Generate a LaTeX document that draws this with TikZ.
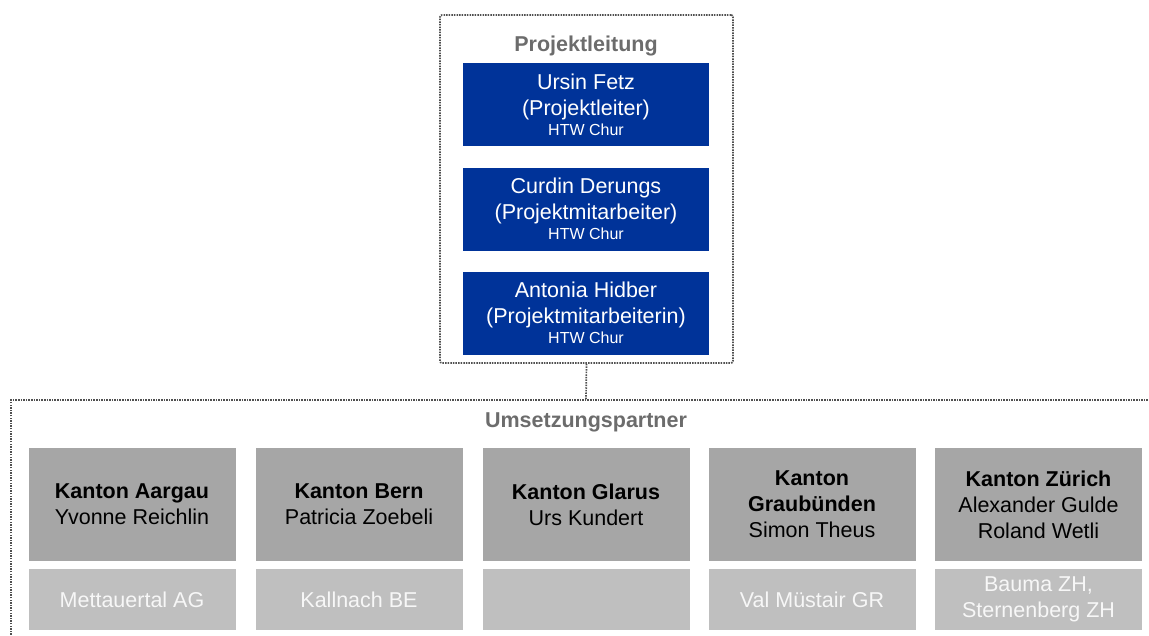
\documentclass[tikz,border=0pt]{standalone}
\usepackage{fontspec}
\setmainfont{Liberation Sans}
\definecolor{htwblau}{RGB}{0,51,153}
\definecolor{kantongrau}{RGB}{166,166,166}
\definecolor{ortgrau}{RGB}{191,191,191}
\definecolor{titelgrau}{RGB}{108,108,108}
\definecolor{punktgrau}{RGB}{80,80,80}
\newcommand{\klein}[1]{{\fontsize{16}{19}\selectfont #1}}

\tikzset{
	grundtext/.style={font=\fontsize{21.5}{26}\selectfont, align=center, inner sep=0pt},
	leitbox/.style={grundtext, fill=htwblau, text=white, minimum width=246pt, minimum height=83pt},
	kantonbox/.style={grundtext, fill=kantongrau, text=black, minimum width=207pt, minimum height=113pt},
	ortbox/.style={grundtext, fill=ortgrau, text=white!94!gray, minimum width=207pt, minimum height=61pt},
	punktlinie/.style={draw=punktgrau, line width=1.7pt, dash pattern=on 1.5pt off 1.1pt},
	titel/.style={text=titelgrau, font=\bfseries\fontsize{21.5}{26}\selectfont, anchor=base},
}

\begin{document}
\begin{tikzpicture}[x=1pt, y=-1pt]
			%%%%% START %%%%%
			\useasboundingbox (0, 0) rectangle (1149, 635);
			
			% Projektleitung
			\node[punktlinie, rounded corners=2pt, minimum width=293pt, minimum height=348pt, inner sep=0pt] (leitung) at (586.5, 189) {};
			\node[titel] (leitungtitel) at (586, 51) {Projektleitung};
			
			\node[leitbox] (fetz) at (586, 104.5) {Ursin Fetz\\(Projektleiter)\\[-6pt]\klein{HTW Chur}};
			\node[leitbox] (derungs) at (586, 209) {Curdin Derungs\\(Projektmitarbeiter)\\[-6pt]\klein{HTW Chur}};
			\node[leitbox] (hidber) at (586, 313) {Antonia Hidber\\(Projektmitarbeiterin)\\[-6pt]\klein{HTW Chur}};
			
			% Umsetzungspartner
			\coordinate (partner) at (586, 400);
			\draw[punktlinie] (11, 640) -- (11, 400) -- (1155, 400);
			\draw[punktlinie] (leitung.south) -- (partner);
			\node[titel] (partnertitel) at (586, 427) {Umsetzungspartner};
			
			\node[kantonbox] (aargau) at (132, 504.5) {\textbf{Kanton Aargau}\\Yvonne Reichlin};
			\node[kantonbox] (bern) at (359, 504.5) {\textbf{Kanton Bern}\\Patricia Zoebeli};
			\node[kantonbox] (glarus) at (586, 504.5) {\textbf{Kanton Glarus}\\Urs Kundert};
			\node[kantonbox] (graubuenden) at (812, 504.5) {\textbf{Kanton}\\\textbf{Graubünden}\\Simon Theus};
			\node[kantonbox] (zuerich) at (1038.5, 504.5) {\textbf{Kanton Zürich}\\Alexander Gulde\\Roland Wetli};
			
			\node[ortbox] (mettauertal) at (132, 599.5) {Mettauertal AG};
			\node[ortbox] (kallnach) at (359, 599.5) {Kallnach BE};
			\node[ortbox] (glarusort) at (586, 599.5) {};
			\node[ortbox] (muestair) at (812, 599.5) {Val Müstair GR};
			\node[ortbox] (bauma) at (1038.5, 599.5) {Bauma ZH,\\Sternenberg ZH};
			
			%%%%% END %%%%%
\end{tikzpicture}
\end{document}
